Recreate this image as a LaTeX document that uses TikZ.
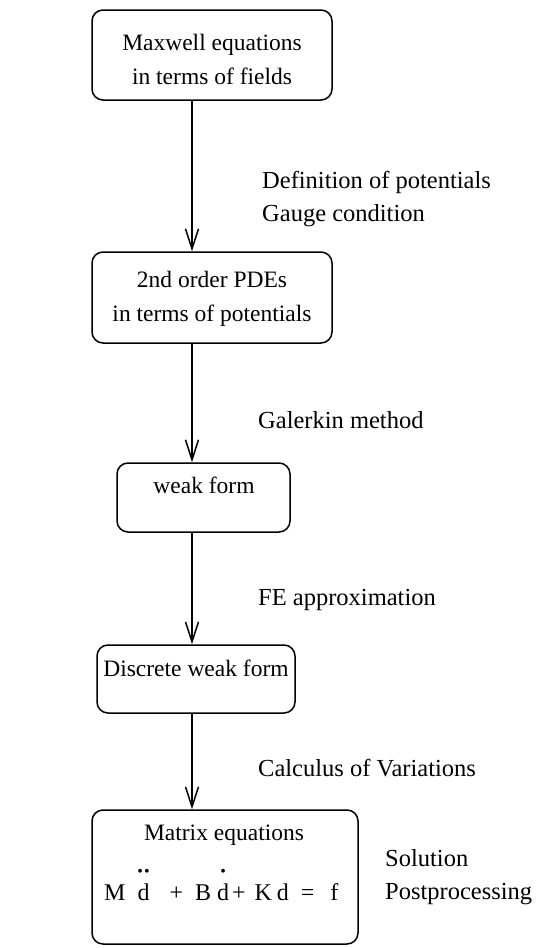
\documentclass[tikz,border=0pt]{standalone}
\usepackage{fontspec}
\setmainfont{Liberation Serif}
\usetikzlibrary{arrows.meta}
\newcommand\dotover[2]{\leavevmode\setbox0\hbox{#2}\rlap{\hbox to\wd0{\hss\raisebox{1.0em}{\fontsize{16}{16}\selectfont #1}\hss}}#2}
\begin{document}
\begin{tikzpicture}[x=1pt,y=-1pt,
  every node/.style={font=\fontsize{24}{34}\selectfont, inner sep=0pt},
  box/.style={draw, line width=1.5pt, rounded corners=11pt, rectangle},
  txt/.style={align=center, font=\fontsize{23.5}{34}\selectfont},
  lbl/.style={anchor=west, align=left, font=\fontsize{24.5}{33}\selectfont},
  arr/.style={line width=1.5pt, -{Straight Barb[length=20pt,width=13pt,line width=1.5pt]}}]
\useasboundingbox (0,0) rectangle (555,948);
% boxes
\node[box, minimum width=240pt, minimum height=90pt] (b1) at (212,55) {};
\node[box, minimum width=240pt, minimum height=91pt] (b2) at (212,297.5) {};
\node[box, minimum width=173pt, minimum height=69pt] (b3) at (203.5,497.5) {};
\node[box, minimum width=198pt, minimum height=68pt] (b4) at (196,679) {};
\node[box, minimum width=266pt, minimum height=134pt] (b5) at (225,877) {};
% box texts
\node[txt] (t1) at (212,59) {Maxwell equations\\in terms of fields};
\node[txt] (t2) at (212,299) {2nd order PDEs\\in terms of potentials};
\node[txt] (t3) at (204,485) {weak form};
\node[txt] (t4) at (196,668) {Discrete weak form};
\node[txt] (t5) at (224,835) {Matrix equations};
\node[anchor=base west, font=\fontsize{24}{30}\selectfont] (eq) at (104,900) {M\hspace{12pt}\dotover{\textbullet\hspace{1pt}\textbullet}{d}\hspace{20pt}+\hspace{12pt}B\hspace{6pt}\dotover{\textbullet}{d}\hspace{3pt}+\hspace{9pt}K\hspace{5pt}d\hspace{12pt}=\hspace{16pt}f};
% arrows
\coordinate (ax) at (192,0);
\draw[arr] (b1.south -| ax) -- (b2.north -| ax);
\draw[arr] (b2.south -| ax) -- (b3.north -| ax);
\draw[arr] (b3.south -| ax) -- (b4.north -| ax);
\draw[arr] (b4.south -| ax) -- (b5.north -| ax);
% labels
\node[lbl] (l1) at (262,199) {Definition of potentials\\Gauge condition};
\node[lbl] (l2) at (258,420) {Galerkin method};
\node[lbl] (l3) at (258,600) {FE approximation};
\node[lbl] (l4) at (258,768) {Calculus of Variations};
\node[lbl] (l5) at (385,877) {Solution\\Postprocessing};
\end{tikzpicture}
\end{document}
